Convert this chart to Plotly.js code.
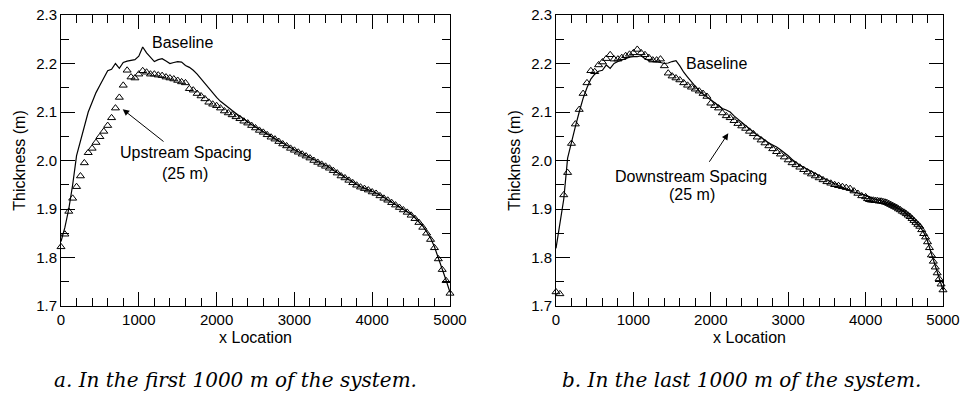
<!DOCTYPE html>
<html>
<head>
<meta charset="utf-8">
<script src="https://cdn.plot.ly/plotly-3.0.1.min.js"></script>
<style>html,body{margin:0;padding:0;background:#fff;}#chart{width:962px;height:397px;}</style>
</head>
<body>
<div id="chart"></div>
<script>
// x positions (m)
const x50 = [0,50,100,150,200,250,300,350,400,450,500,550,600,650,700,750,800,850,900,950,
1000,1050,1100,1150,1200,1250,1300,1350,1400,1450,1500,1550,1600,1650,1700,1750,1800,1850,1900,1950,
2000,2050,2100,2150,2200,2250,2300,2350,2400,2450,2500,2550,2600,2650,2700,2750,2800,2850,2900,2950,
3000,3050,3100,3150,3200,3250,3300,3350,3400,3450,3500,3550,3600,3650,3700,3750,3800,3850,3900,3950,
4000,4050,4100,4150,4200,4250,4300,4350,4400,4450,4500,4550,4600,4650,4700,4750,4800,4850,4900,4950,5000];

// Panel a: baseline
const baselineA = [1.833,1.862,1.900,1.950,2.010,2.040,2.070,2.100,2.120,2.140,2.155,2.170,2.185,2.188,2.200,2.190,2.202,2.205,2.206,2.208,
2.215,2.234,2.222,2.212,2.204,2.208,2.210,2.205,2.200,2.202,2.204,2.203,2.196,2.192,2.186,2.178,2.168,2.160,2.150,2.140,
2.130,2.122,2.115,2.109,2.103,2.097,2.091,2.085,2.079,2.074,2.069,2.064,2.060,2.055,2.050,2.045,2.040,2.036,2.032,2.027,
2.022,2.018,2.014,2.010,2.006,2.002,1.998,1.994,1.990,1.986,1.980,1.975,1.970,1.965,1.960,1.955,1.950,1.946,1.943,1.940,
1.937,1.933,1.929,1.924,1.920,1.915,1.910,1.905,1.900,1.895,1.889,1.882,1.874,1.865,1.853,1.840,1.822,1.800,1.778,1.753,1.728];

// Panel a: upstream spacing (25 m)
const upstreamA = [1.822,1.848,1.895,1.922,1.946,1.968,1.995,2.016,2.025,2.037,2.049,2.060,2.072,2.088,2.108,2.130,2.155,2.186,2.172,2.170,
2.178,2.185,2.182,2.178,2.178,2.176,2.175,2.172,2.170,2.168,2.165,2.162,2.160,2.148,2.145,2.138,2.133,2.127,2.120,2.116,
2.113,2.108,2.102,2.098,2.094,2.090,2.086,2.081,2.077,2.072,2.067,2.062,2.058,2.053,2.048,2.044,2.039,2.034,2.030,2.025,
2.021,2.017,2.013,2.009,2.005,2.000,1.996,1.992,1.988,1.984,1.979,1.974,1.968,1.964,1.959,1.954,1.949,1.945,1.942,1.939,
1.935,1.932,1.927,1.922,1.918,1.913,1.908,1.903,1.898,1.893,1.887,1.880,1.872,1.862,1.850,1.837,1.820,1.797,1.775,1.752,1.726];

// Panel b: baseline
const baselineB = [1.819,1.865,1.920,2.005,2.040,2.070,2.100,2.128,2.150,2.168,2.178,2.184,2.186,2.197,2.190,2.200,2.204,2.207,2.210,2.213,
2.214,2.214,2.216,2.210,2.206,2.205,2.204,2.202,2.200,2.201,2.204,2.206,2.195,2.182,2.172,2.162,2.152,2.143,2.137,2.131,
2.125,2.118,2.112,2.107,2.104,2.100,2.092,2.085,2.078,2.072,2.065,2.058,2.052,2.048,2.042,2.036,2.032,2.028,2.022,2.016,
2.010,2.002,1.996,1.990,1.986,1.982,1.978,1.974,1.969,1.964,1.960,1.956,1.952,1.948,1.944,1.940,1.937,1.935,1.933,1.931,
1.928,1.925,1.921,1.919,1.917,1.915,1.912,1.908,1.904,1.899,1.894,1.888,1.881,1.873,1.864,1.852,1.834,1.808,1.782,1.758,1.733];

// Panel b: downstream spacing (25 m) - 50 m steps to 4000, 25 m steps after
const xDown = [0,50,100,150,200,250,300,350,400,450,500,550,600,650,700,750,800,850,900,950,
1000,1050,1100,1150,1200,1250,1300,1350,1400,1450,1500,1550,1600,1650,1700,1750,1800,1850,1900,1950,
2000,2050,2100,2150,2200,2250,2300,2350,2400,2450,2500,2550,2600,2650,2700,2750,2800,2850,2900,2950,
3000,3050,3100,3150,3200,3250,3300,3350,3400,3450,3500,3550,3600,3650,3700,3750,3800,3850,3900,3950,
4000,4025,4050,4075,4100,4125,4150,4175,4200,4225,4250,4275,4300,4325,4350,4375,4400,4425,4450,4475,
4500,4525,4550,4575,4600,4625,4650,4675,4700,4725,4750,4775,4800,4825,4850,4875,4900,4925,4950,4975,5000];
const downstreamB = [1.729,1.725,1.929,1.975,2.035,2.075,2.105,2.138,2.160,2.185,2.183,2.197,2.203,2.210,2.218,2.209,2.209,2.212,2.216,2.219,
2.222,2.229,2.222,2.218,2.212,2.207,2.207,2.209,2.195,2.180,2.174,2.170,2.166,2.160,2.155,2.151,2.147,2.143,2.138,2.132,
2.118,2.113,2.108,2.098,2.092,2.088,2.082,2.076,2.071,2.066,2.060,2.055,2.048,2.042,2.036,2.030,2.024,2.018,2.013,2.007,
2.001,1.995,1.991,1.986,1.981,1.976,1.972,1.968,1.964,1.960,1.956,1.953,1.950,1.948,1.946,1.944,1.942,1.937,1.932,1.927,
1.925,1.921,1.919,1.918,1.918,1.917,1.917,1.916,1.916,1.915,1.914,1.913,1.911,1.909,1.907,1.905,1.903,1.900,1.898,1.895,
1.893,1.890,1.887,1.884,1.880,1.876,1.872,1.868,1.864,1.857,1.849,1.842,1.832,1.820,1.805,1.792,1.780,1.768,1.756,1.745,1.733];

const xTicks = [0,1000,2000,3000,4000,5000];
const yTicks = [1.7,1.8,1.9,2.0,2.1,2.2,2.3];

const FONT = 'Liberation Sans, Arial, sans-serif';
const lineStyle = {color:'#000', width:1.2};
const markerStyle = {symbol:'triangle-up-open', size:7, color:'#000', line:{color:'#000', width:1}};

const traces = [
  {x:x50, y:baselineA, type:'scatter', mode:'lines', line:lineStyle, xaxis:'x', yaxis:'y', cliponaxis:false, name:'Baseline'},
  {x:x50, y:upstreamA, type:'scatter', mode:'markers', marker:markerStyle, xaxis:'x', yaxis:'y', cliponaxis:false, name:'Upstream Spacing (25 m)'},
  {x:x50, y:baselineB, type:'scatter', mode:'lines', line:lineStyle, xaxis:'x2', yaxis:'y2', cliponaxis:false, name:'Baseline'},
  {x:xDown, y:downstreamB, type:'scatter', mode:'markers', marker:markerStyle, xaxis:'x2', yaxis:'y2', cliponaxis:false, name:'Downstream Spacing (25 m)'}
];

function xa(domain, anchor){
  return {domain:domain, anchor:anchor, range:[0,5000], tickvals:xTicks, ticks:'inside', ticklen:14, tickwidth:1, tickcolor:'#000',
    minor:{dtick:200, ticks:'inside', ticklen:8, tickwidth:1, tickcolor:'#000'},
    showline:true, linecolor:'#000', linewidth:1, mirror:'ticks', showgrid:false, zeroline:false,
    tickfont:{family:FONT, size:15, color:'#000'},
    title:{text:'x Location', font:{family:FONT, size:16, color:'#000'}, standoff:4}};
}
function ya(domain, anchor){
  return {domain:domain, anchor:anchor, range:[1.7,2.3], tickvals:yTicks, tickformat:'.1f', ticks:'inside', ticklen:14, tickwidth:1, tickcolor:'#000',
    minor:{dtick:0.05, tick0:1.7, ticks:'inside', ticklen:8, tickwidth:1, tickcolor:'#000'},
    showline:true, linecolor:'#000', linewidth:1, mirror:'ticks', showgrid:false, zeroline:false,
    tickfont:{family:FONT, size:15, color:'#000'},
    title:{text:'Thickness (m)', font:{family:FONT, size:16, color:'#000'}, standoff:6}};
}

const txt = {family:FONT, size:16, color:'#000'};
const cap = {family:'DejaVu Serif, serif', size:20, color:'#000'};
const annotations = [
  {xref:'x', yref:'y', x:1568, y:2.244, text:'Baseline', showarrow:false, font:txt, xanchor:'center', yanchor:'middle'},
  {xref:'x', yref:'y', x:1607, y:2.0155, text:'Upstream Spacing', showarrow:false, font:txt, xanchor:'center', yanchor:'middle'},
  {xref:'x', yref:'y', x:1594, y:1.974, text:'(25 m)', showarrow:false, font:txt, xanchor:'center', yanchor:'middle'},
  {xref:'x', yref:'y', x:793, y:2.1056, axref:'x', ayref:'y', ax:1337, ay:2.0367, text:'', showarrow:true, arrowhead:2, arrowsize:1.3, arrowwidth:1, arrowcolor:'#000', standoff:0},
  {xref:'x2', yref:'y2', x:2080, y:2.201, text:'Baseline', showarrow:false, font:txt, xanchor:'center', yanchor:'middle'},
  {xref:'x2', yref:'y2', x:1744, y:1.9666, text:'Downstream Spacing', showarrow:false, font:txt, xanchor:'center', yanchor:'middle'},
  {xref:'x2', yref:'y2', x:1757, y:1.929, text:'(25 m)', showarrow:false, font:txt, xanchor:'center', yanchor:'middle'},
  {xref:'x2', yref:'y2', x:2226, y:2.0561, axref:'x2', ayref:'y2', ax:1968, ay:1.9942, text:'', showarrow:true, arrowhead:2, arrowsize:1.3, arrowwidth:1, arrowcolor:'#000', standoff:0},
  {xref:'paper', yref:'paper', x:0.2443, y:0.0428, text:'<i>a. In the first 1000 m of the system.</i>', showarrow:false, font:cap, xanchor:'center', yanchor:'middle'},
  {xref:'paper', yref:'paper', x:0.7713, y:0.0428, text:'<i>b. In the last 1000 m of the system.</i>', showarrow:false, font:cap, xanchor:'center', yanchor:'middle'}
];

const layout = {
  width:962, height:397, margin:{l:0, r:0, t:0, b:0},
  paper_bgcolor:'#fff', plot_bgcolor:'#fff', showlegend:false,
  font:{family:FONT, color:'#000'},
  xaxis: xa([61/962, 450/962], 'y'),
  yaxis: ya([91/397, 382/397], 'x'),
  xaxis2: xa([556/962, 943/962], 'y2'),
  yaxis2: ya([91/397, 382/397], 'x2'),
  annotations: annotations
};

Plotly.newPlot('chart', traces, layout, {staticPlot:true, displayModeBar:false});
</script>
</body>
</html>
